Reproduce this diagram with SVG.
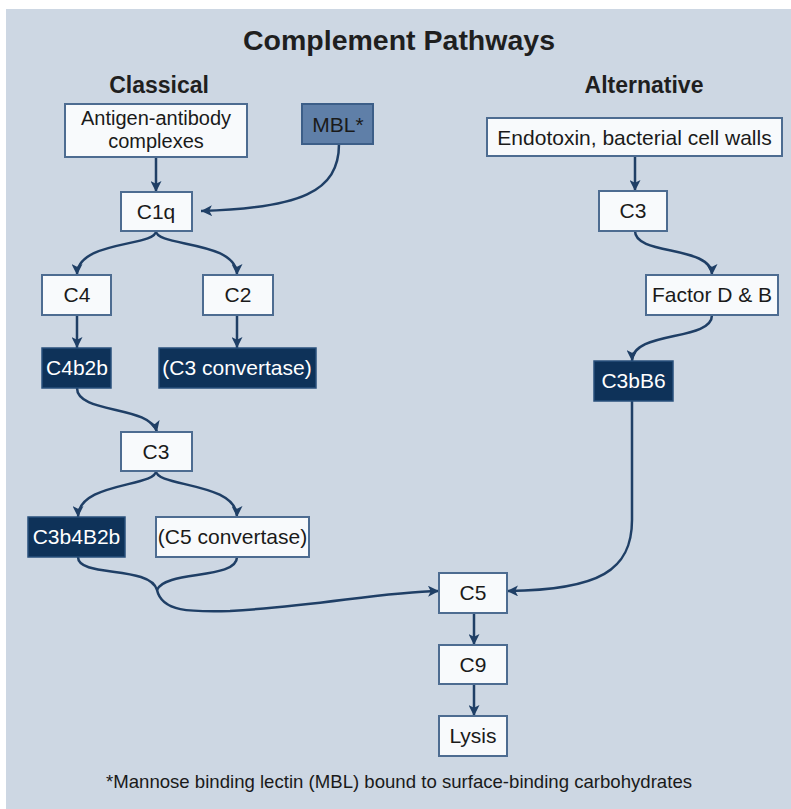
<svg xmlns="http://www.w3.org/2000/svg" width="791" height="809" viewBox="0 0 791 809">
<style>
.t{font-family:"Liberation Sans",Arial,sans-serif;font-size:21px;text-anchor:middle;fill:#1a1a1a}
.w{fill:#ffffff}
.h{font-family:"Liberation Sans",Arial,sans-serif;font-weight:bold;text-anchor:middle;fill:#1f1f1f}
.box{fill:#f8fafc;stroke:#4d6c91;stroke-width:2}
.dark{fill:#0e3259;stroke:#29507c;stroke-width:1.5}
.mbl{fill:#5f7fa8;stroke:#3c5e88;stroke-width:2}
.c{fill:none;stroke:#1f3f66;stroke-width:2.5;marker-end:url(#ah)}
.cn{fill:none;stroke:#1f3f66;stroke-width:2.5}
</style>
<defs>
<marker id="ah" viewBox="0 0 10 10" markerWidth="11" markerHeight="11" refX="10" refY="5" orient="auto" markerUnits="userSpaceOnUse">
<path d="M0,0 L10,5 L0,10 L2.5,5 z" fill="#1f3f66"/>
</marker>
</defs>
<rect x="0" y="0" width="791" height="809" fill="#ffffff"/>
<rect x="6" y="9" width="785" height="800" fill="#cdd7e3"/>
<text class="h" x="399" y="50" font-size="28.5">Complement Pathways</text>
<text class="h" x="159" y="93" font-size="23">Classical</text>
<text class="h" x="644" y="93" font-size="23">Alternative</text>

<g id="connectors">
<path class="c" d="M156,157 L156,192"/>
<path class="c" d="M339,144 C339,192 300,208 201,211"/>
<path class="c" d="M156,231 C156,247 77,240 77,275"/>
<path class="c" d="M156,231 C156,247 237,240 237,275"/>
<path class="c" d="M77,315 L77,348"/>
<path class="c" d="M237,315 L237,348"/>
<path class="c" d="M77,388 C77,414 150,405 157,432"/>
<path class="c" d="M156,471 C156,487 78,482 78,517"/>
<path class="c" d="M156,471 C156,487 237,482 237,517"/>
<path class="cn" d="M237,557 C237,580 165,570 157,590"/>
<path class="c" d="M78,557 C78,578 150,565 157,590 C162,612 190,612 230,611 C320,606 380,592 439,591"/>
<path class="c" d="M635,156 L635,191"/>
<path class="c" d="M635,231 C635,256 712,245 712,275"/>
<path class="c" d="M712,315 C712,342 632,330 632,361"/>
<path class="c" d="M632,401 L632,520 C632,570 600,590 507,591"/>
<path class="c" d="M474,613 L474,645"/>
<path class="c" d="M474,684 L474,716"/>
</g>

<g id="antigen"><rect class="box" x="65" y="104" width="182" height="53"/><text class="t" x="156" y="125" style="font-size:20px">Antigen-antibody</text><text class="t" x="156" y="148" style="font-size:20px">complexes</text></g>
<g id="mbl"><rect class="mbl" x="302" y="104" width="71" height="40"/><text class="t" x="338" y="131.5">MBL*</text></g>
<g id="c1q"><rect class="box" x="121" y="192" width="71" height="39"/><text class="t" x="156" y="219">C1q</text></g>
<g id="c4"><rect class="box" x="42" y="275" width="69" height="40"/><text class="t" x="77" y="302">C4</text></g>
<g id="c2"><rect class="box" x="203" y="275" width="70" height="40"/><text class="t" x="238" y="302">C2</text></g>
<g id="c4b2b"><rect class="dark" x="42" y="348" width="69" height="40"/><text class="t w" x="77" y="375">C4b2b</text></g>
<g id="c3conv"><rect class="dark" x="159" y="348" width="157" height="40"/><text class="t w" x="237" y="375">(C3 convertase)</text></g>
<g id="c3c"><rect class="box" x="121" y="432" width="71" height="39"/><text class="t" x="156" y="459">C3</text></g>
<g id="c3b4b2b"><rect class="dark" x="28" y="517" width="97" height="40"/><text class="t w" x="76.5" y="544">C3b4B2b</text></g>
<g id="c5conv"><rect class="box" x="156" y="517" width="153" height="40"/><text class="t" x="232.5" y="544">(C5 convertase)</text></g>
<g id="endotoxin"><rect class="box" x="487" y="118" width="295" height="38"/><text class="t" x="634.5" y="144.5">Endotoxin, bacterial cell walls</text></g>
<g id="c3a"><rect class="box" x="599" y="191" width="68" height="40"/><text class="t" x="633" y="218">C3</text></g>
<g id="factor"><rect class="box" x="646" y="275" width="132" height="40"/><text class="t" x="712" y="302">Factor D &amp; B</text></g>
<g id="c3bb6"><rect class="dark" x="594" y="361" width="79" height="40"/><text class="t w" x="633.5" y="388">C3bB6</text></g>
<g id="c5"><rect class="box" x="439" y="573" width="68" height="40"/><text class="t" x="473" y="600">C5</text></g>
<g id="c9"><rect class="box" x="439" y="645" width="68" height="39"/><text class="t" x="473" y="672">C9</text></g>
<g id="lysis"><rect class="box" x="439" y="716" width="68" height="40"/><text class="t" x="473" y="743">Lysis</text></g>

<text class="t" x="399" y="788" style="font-size:18.6px">*Mannose binding lectin (MBL) bound to surface-binding carbohydrates</text>
</svg>
